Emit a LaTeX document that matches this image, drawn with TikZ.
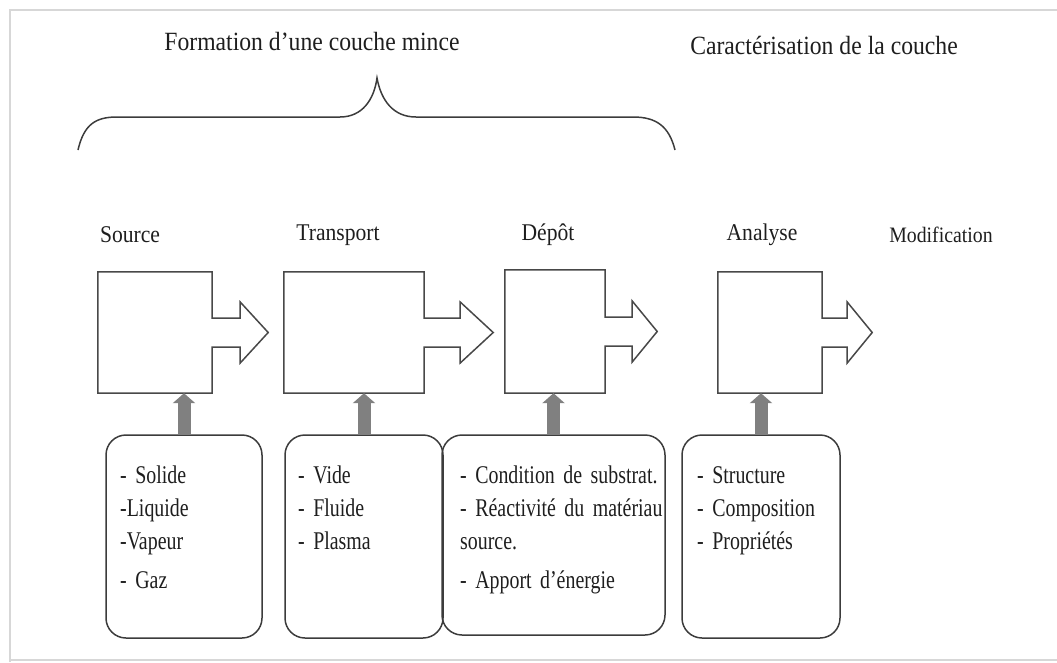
\documentclass[tikz,border=0pt]{standalone}
\usepackage{fontspec}
\setmainfont{Liberation Serif}[FakeStretch=0.9]
\newfontfamily\listfont{Liberation Serif}[FakeStretch=0.78, WordSpace=0.75, Ligatures=TeX]
\usetikzlibrary{arrows.meta}

% box with its outgoing block arrow: #1 node, #2 shaft length, #3 head length
\newcommand{\stageshape}[3]{%
\draw [stageline] (#1.south east) -- ([yshift=-14.5pt]#1.east) -- ++(#2,0) -- ++(0,16)
  -- ++(#3,-30.5) -- ++(-#3,-30.5) -- ++(0,16) -- ++(-#2,0)
  -- (#1.north east) -- (#1.north west) -- (#1.south west) -- cycle;}

\tikzset{
  stageline/.style={line width=1.5pt, draw={rgb,255:red,72; green,72; blue,72}},
  stagebox/.style={draw=none, inner sep=0pt},
  listbox/.style={draw={rgb,255:red,60; green,60; blue,60}, line width=1.5pt, rounded corners=20pt, inner sep=0pt},
  listtext/.style={font=\listfont\fontsize{25.5}{33}\selectfont, anchor=base west, align=left, inner sep=0pt, text width=215pt},
  title/.style={font=\fontsize{26.3}{30}\selectfont},
  stagelabel/.style={font=\fontsize{24}{28}\selectfont},
  feed/.style={line width=13pt, draw={rgb,255:red,128; green,128; blue,128}, -{Triangle[width=22pt,length=10pt]}},
  frameline/.style={line width=2pt, draw={rgb,255:red,215; green,215; blue,215}}
}

\begin{document}
\begin{tikzpicture}[x=1pt, y=-1pt, text={rgb,255:red,30; green,30; blue,30}]
\useasboundingbox (0,0) rectangle (1057,662);
% page frame
\draw [frameline] (10,662) -- (10,10) -- (1057,10);
\draw [frameline] (10,660) -- (1057,660);

% titles
\node [title] (formation) at (312,42) {Formation d'une couche mince};
\node [title] (caracterisation) at (824,45) {Caractérisation de la couche};

% brace
\draw [line width=1.5pt, draw={rgb,255:red,60; green,60; blue,60}] (78,150) .. controls (84,124) and (96,117) .. (117,117) -- (340,117)
  .. controls (362,117) and (374,100) .. (377,78) .. controls (381,100) and (393,117) .. (416,117) -- (633,117)
  .. controls (656,117) and (669,126) .. (675,150);

% stage labels
\node [stagelabel] (sourcelabel) at (130,235) {Source};
\node [stagelabel] (transportlabel) at (338,235) {Transport};
\node [stagelabel] (depotlabel) at (548,235) {Dépôt};
\node [stagelabel] (analyselabel) at (762,235) {Analyse};
\node [stagelabel, font=\fontsize{22}{26}\selectfont] (modiflabel) at (941,235) {Modification};

% stage boxes
\node [stagebox, minimum width=114pt, minimum height=121pt] (source) at (155,332.5) {};
\node [stagebox, minimum width=140pt, minimum height=121pt] (transport) at (354,332.5) {};
\node [stagebox, minimum width=100pt, minimum height=123pt] (depot) at (555,331.5) {};
\node [stagebox, minimum width=104pt, minimum height=121pt] (analyse) at (770,332.5) {};
\stageshape{source}{28}{28}
\stageshape{transport}{36}{33}
\stageshape{depot}{27}{25}
\stageshape{analyse}{25}{25}

% parameter boxes
\node [listbox, minimum width=156pt, minimum height=203pt] (sourcelist) at (184,536.5) {};
\node [listbox, minimum width=158pt, minimum height=203pt] (transportlist) at (364,536.5) {};
\node [listbox, minimum width=223pt, minimum height=200pt] (depotlist) at (553.5,535) {};
\node [listbox, minimum width=158pt, minimum height=203pt] (analyselist) at (761,536.5) {};

\node [listtext] (sourcetext) at (120,483) {- Solide\\-Liquide\\-Vapeur\\[6pt]- Gaz};
\node [listtext] (transporttext) at (298,483) {- Vide\\- Fluide\\- Plasma};
\node [listtext] (depottext) at (460,483) {- Condition de substrat.\\- Réactivité du matériau\\source.\\[6pt]- Apport d'énergie};
\node [listtext] (analysetext) at (697,483) {- Structure\\- Composition\\- Propriétés};

% feeding arrows
\draw [feed] (sourcelist.north) -- (sourcelist.north |- source.south);
\draw [feed] (transportlist.north) -- (transportlist.north |- transport.south);
\draw [feed] (depotlist.north) -- (depotlist.north |- depot.south);
\draw [feed] (analyselist.north) -- (analyselist.north |- analyse.south);
\end{tikzpicture}
\end{document}
